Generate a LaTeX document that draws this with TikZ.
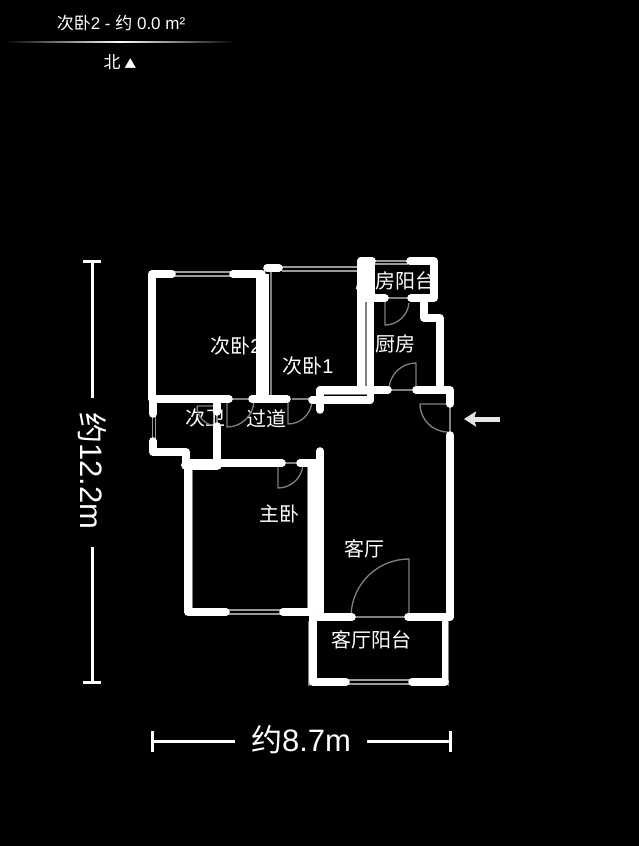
\documentclass[tikz,border=0pt]{standalone}
\usepackage{fontspec}
\setmainfont{Noto Sans CJK SC}
\newfontfamily\latfont{Liberation Sans}
\usetikzlibrary{arrows.meta}
\tikzset{
	wall/.style={draw=white, line width=7.6pt, line cap=round, line join=round},
	thickwall/.style={wall, line width=10pt},
	sidewall/.style={draw=white, line width=6pt, line join=round},
	outline/.style={draw=white!50!black, line width=1.2pt},
	winline/.style={draw=white!60!black, line width=1.2pt},
	door/.style={draw=white!50!black, line width=1.3pt},
	dimline/.style={draw=white, line width=3pt},
	room/.style={text=white, font=\fontsize{20}{24}\selectfont, inner sep=0pt},
	dimtext/.style={text=white, font=\fontsize{31}{36}\selectfont, inner sep=0pt},
	head/.style={text=white, font=\fontsize{17}{20}\selectfont, inner sep=0pt}
}
\begin{document}
\begin{tikzpicture}[x=1pt,y=-1pt]
\useasboundingbox (0,0) rectangle (639,846);
\fill[black] (0,0) rectangle (639,846);

% header
\node[head] (title) at (121,23) {次卧{\latfont 2 - }约{\latfont\ 0.0 m²}};
\shade[left color=black, right color=black, middle color=white] (5,41.6) rectangle (235,42.6);
\node[head] (north) at (120,62) {北 {\fontsize{12}{14}\selectfont ▲}};

% room names, the walls go over them
\node[room] (bedtwo) at (236,346) {次卧{\latfont 2}};
\node[room] (bedone) at (308,366) {次卧{\latfont 1}};
\node[room] (bath) at (205,418) {次卫};
\node[room] (hall) at (266,419) {过道};
\node[room] (kitchen) at (395,344) {厨房};
\node[room] (kbalcony) at (395,281) {厨房阳台};
\node[room] (master) at (279,514) {主卧};
\node[room] (living) at (364,549) {客厅};
\node[room] (lbalcony) at (371,640) {客厅阳台};

% windows
\foreach \ya/\xa/\xb in {272/173/233, 276/173/233, 267/282/358, 271/282/358, 261/375/408, 264/375/408, 610/228/281, 614/228/281, 680/348/410, 684/348/410}
	\draw[winline] (\xa,\ya) -- (\xb,\ya);
\foreach \xa in {152.5,155.5}
	\draw[winline] (\xa,416) -- (\xa,440);

% gray edges
\draw[outline] (271,272) -- (271,396);
\draw[outline] (366,302) -- (366,386);
\draw[outline] (320,394.5) -- (372,394.5);
\draw[outline] (192,470) -- (192,608);
\draw[outline] (308,463) -- (308,608);
\draw[outline] (316,463) -- (316,613);
\draw[outline] (309,621) -- (309,686);
\draw[outline] (448.5,621) -- (448.5,686);

% doors
\draw[door] (229,399) -- (252,399);
\draw[door] (292,399) -- (310,399);
\draw[door] (282,463) -- (300,463);
\draw[door] (217,406) -- (217,423);
\draw[door] (388,298) -- (408,298);
\draw[door] (391,390) -- (413,390);
\draw[door] (450,407) -- (450,432);
\draw[door] (355,617) -- (405,617);
\draw[door] (197,406) -- (217,406) (197,406) arc[start angle=180, end angle=90, radius=20];
\draw[door] (227,400) -- (227,427) arc[start angle=90, end angle=5, radius=27];
\draw[door] (288,400) -- (288,424) arc[start angle=90, end angle=5, radius=24];
\draw[door] (278,463) -- (278,488) arc[start angle=90, end angle=5, radius=25];
\draw[door] (385,302) -- (385,325) arc[start angle=90, end angle=5, radius=24];
\draw[door] (416,390) -- (416,363) arc[start angle=-90, end angle=-177, radius=27];
\draw[door] (447,404) -- (420,404) arc[start angle=180, end angle=90, radius=28];
\draw[door] (409,617) -- (409,559) arc[start angle=-90, end angle=-177, radius=58];

% walls
\draw[wall] (172,274) -- (152,274) -- (152,399) -- (229,399);
\draw[wall] (233,274) -- (262,274);
\draw[thickwall, line width=13pt, line cap=butt] (262.5,274) -- (262.5,399);
\draw[wall] (252,399) -- (287,399);
\draw[wall] (267,268) -- (279,268);
\draw[wall] (153,399) -- (153,414);
\draw[wall] (153,441) -- (153,452) -- (186,452) -- (186,463);
\draw[wall] (217,399) -- (217,412);
\draw[wall] (217,426) -- (217,465);
\draw[thickwall] (186,465) -- (217,465);
\draw[wall] (188,463) -- (282,463);
\draw[wall] (300,463) -- (316,463);
\draw[wall] (188,463) -- (188,612) -- (226,612);
\draw[wall] (283,612) -- (312,612);
\draw[wall] (312,463) -- (312,612);
\draw[wall] (320,451) -- (320,617);
\draw[wall] (313,617) -- (352,617);
\draw[wall] (408,617) -- (450,617);
\draw[wall] (313,617) -- (313,682) -- (346,682);
\draw[wall] (412,682) -- (445,682);
\draw[sidewall] (445,617) -- (445,682);
\draw[wall] (361,261) -- (361,390);
\draw[wall] (370.5,298) -- (370.5,400);
\draw[thickwall, line width=17pt, line cap=butt] (366,258) -- (366,302);
\draw[wall] (361,261) -- (372,261);
\draw[wall] (410,261) -- (434,261) -- (434,298) -- (411,298);
\draw[wall] (372,298) -- (385,298);
\draw[wall] (424,298) -- (424,318) -- (440,318) -- (440,390);
\draw[wall] (320,390) -- (388,390);
\draw[wall] (312,400) -- (370,400);
\draw[wall] (320,390) -- (320,410);
\draw[wall] (416,390) -- (450,390) -- (450,404);
\draw[wall] (450,435) -- (450,617);

% entrance
\coordinate (enterA) at (500,419);
\coordinate (enterB) at (464,419);
\draw[draw=white!90!black, line width=5pt, -{Stealth[length=12pt,width=15pt,inset=2pt]}] (enterA) -- (enterB);

% dimensions
\node[dimtext, rotate=-90] (dimheight) at (92,471) {约{\latfont 12.2m}};
\node[dimtext] (dimwidth) at (301,740) {约{\latfont 8.7m}};
\coordinate (htop) at (92,261);
\coordinate (hbot) at (92,682);
\coordinate (wleft) at (152,741);
\coordinate (wright) at (450,741);
\draw[dimline] (htop) -- (92,398);
\draw[dimline] (92,547) -- (hbot);
\draw[dimline] (wleft) -- (235,741);
\draw[dimline] (367,741) -- (wright);
\draw[dimline] (83,261) -- (101,261);
\draw[dimline] (83,682) -- (101,682);
\draw[dimline] (152,731) -- (152,752);
\draw[dimline] (450,731) -- (450,752);
\end{tikzpicture}
\end{document}
